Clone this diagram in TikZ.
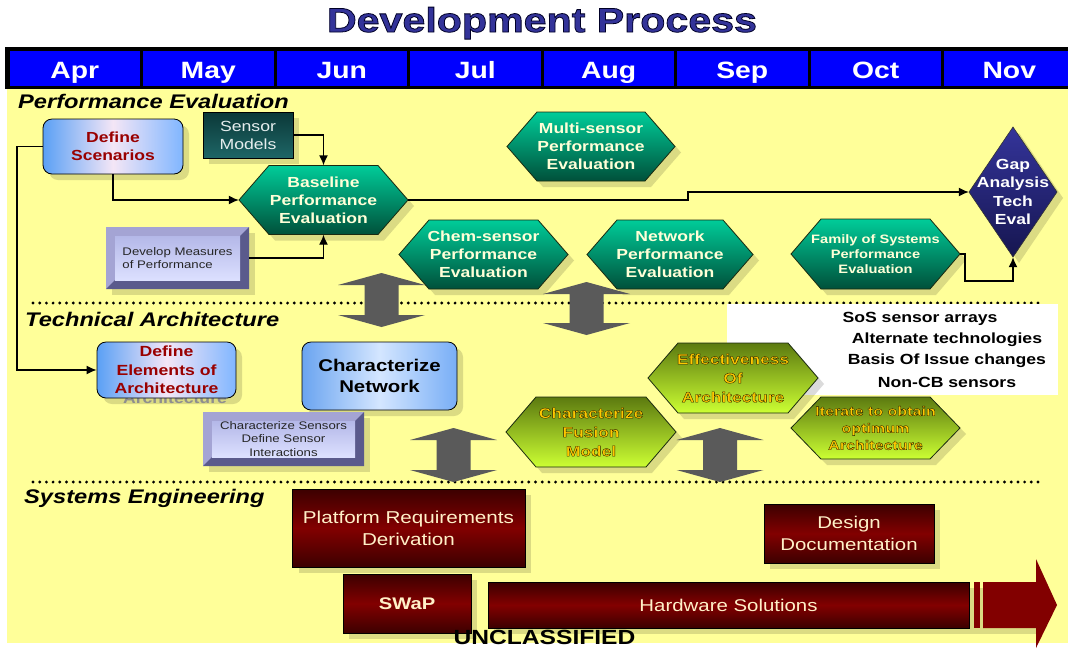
\documentclass[tikz,border=0pt]{standalone}
\usepackage{fontspec}
\setmainfont[FakeStretch=1.2]{Liberation Sans}
\usetikzlibrary{arrows.meta}

\definecolor{bgyellow}{HTML}{FFFF99}
\definecolor{hdrblue}{HTML}{0000FF}
\definecolor{titleblue}{HTML}{333399}
\definecolor{dred}{HTML}{990000}
\definecolor{hexgt}{HTML}{00CC99}
\definecolor{hexgb}{HTML}{00503A}
\definecolor{hexline}{HTML}{1A2A10}
\definecolor{hextxt}{HTML}{FFFFD8}
\definecolor{hexot}{HTML}{5C7A10}
\definecolor{hexob}{HTML}{CCFF33}
\definecolor{goldtxt}{HTML}{FFC800}
\definecolor{gapt}{HTML}{34349A}
\definecolor{gapb}{HTML}{161650}
\definecolor{smt}{HTML}{0B3838}
\definecolor{smb}{HTML}{1E6666}
\definecolor{smtxt}{HTML}{E6EEEE}
\definecolor{bevl}{HTML}{A4A4D4}
\definecolor{bevd}{HTML}{5A5A8C}
\definecolor{bevit}{HTML}{B4B8E8}
\definecolor{bevib}{HTML}{DCE0FF}
\definecolor{redt}{HTML}{3C0000}
\definecolor{redm}{HTML}{820000}
\definecolor{redtxt}{HTML}{FFF0C8}
\definecolor{arrd}{HTML}{5A5A5A}
\definecolor{arrl}{HTML}{BDBDBD}
\definecolor{rbl}{HTML}{5AA0F5}
\definecolor{rbm}{HTML}{F4E6F6}
\definecolor{rbr}{HTML}{80B6FF}
\definecolor{cnl}{HTML}{6AA4F0}
\definecolor{cnm}{HTML}{D4E6FF}
\definecolor{cnr}{HTML}{78AEF6}

\newcommand\setfs[2]{\fontsize{#1}{#2}\selectfont}
% dark outline for text (fill + stroke render mode)
\newcommand\darkoutline{\special{pdf:code 0.15 0.12 0.0 RG 2 Tr 0.35 w}}

\tikzset{
  shad/.style={fill=black, fill opacity=0.14},
  hexg/.style={top color=hexgt, bottom color=hexgb, draw=hexline, line width=0.8pt},
  hexo/.style={top color=hexot, bottom color=hexob, draw=hexline, line width=0.8pt},
  gtxt/.style={text=hextxt, font=\bfseries\setfs{14.6}{18}, align=center, inner sep=0pt},
  gtxts/.style={text=hextxt, font=\bfseries\setfs{12.2}{15.3}, align=center, inner sep=0pt},
  otxt/.style={text=goldtxt, font=\bfseries\setfs{14.5}{19}, align=center, inner sep=0pt},
  otxts/.style={text=goldtxt, font=\bfseries\setfs{13.4}{17}, align=center, inner sep=0pt},
  bevtxt/.style={text=black!85, font=\setfs{11}{13.7}, inner sep=0pt},
  rbox/.style={draw=black, line width=0.8pt, rounded corners=9pt, align=center, inner sep=0pt},
  redbox/.style={draw=black, line width=0.6pt, top color=redt, bottom color=redt, middle color=redm, text=redtxt, align=center, inner sep=0pt},
  conn/.style={draw=black, line width=1.4pt, -{Latex[length=10pt,width=9pt]}},
  month/.style={text=white, font=\bfseries\setfs{23.6}{26}, anchor=base, inner sep=0pt},
  seclabel/.style={font=\bfseries\itshape\setfs{19.7}{22}, anchor=base west, inner sep=0pt},
  listtxt/.style={font=\bfseries\setfs{14.7}{18}, anchor=base, inner sep=0pt},
  dotline/.style={line width=3.2pt, line cap=round, dash pattern=on 0pt off 6.7pt},
}

% hexagon: name, cx, cy, w, h, fill style, text style, text
\newcommand\hexnode[8]{%
  \fill[shad] ({#2-#4/2+6},{#3+6}) -- ({#2-#4/2+36},{#3-#5/2+6}) -- ({#2+#4/2-24},{#3-#5/2+6}) -- ({#2+#4/2+6},{#3+6}) -- ({#2+#4/2-24},{#3+#5/2+6}) -- ({#2-#4/2+36},{#3+#5/2+6}) -- cycle;
  \path[#6] ({#2-#4/2},#3) -- ({#2-#4/2+30},{#3-#5/2}) -- ({#2+#4/2-30},{#3-#5/2}) -- ({#2+#4/2},#3) -- ({#2+#4/2-30},{#3+#5/2}) -- ({#2-#4/2+30},{#3+#5/2}) -- cycle;
  \node[#7, minimum width=#4, minimum height=#5] (#1) at (#2,#3) {#8};}

% bevel box: name, cx, cy, w, h, text style, text
\newcommand\bevbox[7]{%
  \fill[shad] ({#2-#4/2+6},{#3-#5/2+6}) rectangle ({#2+#4/2+6},{#3+#5/2+6});
  \fill[bevl] ({#2-#4/2},{#3-#5/2}) rectangle ({#2+#4/2},{#3+#5/2});
  \fill[bevd] ({#2-#4/2},{#3+#5/2}) -- ({#2-#4/2+9},{#3+#5/2-9}) -- ({#2+#4/2-9},{#3+#5/2-9}) -- ({#2+#4/2-9},{#3-#5/2+9}) -- ({#2+#4/2},{#3-#5/2}) -- ({#2+#4/2},{#3+#5/2}) -- cycle;
  \shade[top color=bevit, bottom color=bevib] ({#2-#4/2+9},{#3-#5/2+9}) rectangle ({#2+#4/2-9},{#3+#5/2-9});
  \node[#6, minimum width=#4, minimum height=#5] (#1) at (#2,#3) {#7};}

% grey double arrow: cx, ytop, ybottom
\newcommand\dblarr[3]{%
  \shade[top color=arrd, middle color=arrl, bottom color=arrd] (#1,#2) -- ({#1+43.5},{#2+12}) -- ({#1+17},{#2+12}) -- ({#1+17},{#3-12}) -- ({#1+43.5},{#3-12}) -- (#1,#3) -- ({#1-43.5},{#3-12}) -- ({#1-17},{#3-12}) -- ({#1-17},{#2+12}) -- ({#1-43.5},{#2+12}) -- cycle;}

\begin{document}
\begin{tikzpicture}[x=1pt,y=-1pt]
\useasboundingbox (0,0) rectangle (1068,649);
\fill[white] (0,0) rectangle (1068,649);

% yellow field
\fill[bgyellow] (7,88) rectangle (1068,643);

% title
\node[text=titleblue, font=\bfseries\setfs{34.3}{38}, anchor=base, inner sep=0pt] (title) at (542,32) {\special{pdf:code 0 0 0.15 RG 2 Tr 0.8 w}Development Process};

% month header
\fill[black] (5,47) rectangle (1068,89);
\foreach \i/\m in {0/Apr,1/May,2/Jun,3/Jul,4/Aug,5/Sep,6/Oct,7/Nov}{
  \fill[hdrblue] ({8+133.5*\i+1.5},51) rectangle ({8+133.5*(\i+1)-1.5},86);
  \node[month] (m\i) at ({8+133.5*\i+66.75},78) {\m};
}

% section labels
\node[seclabel] (lpe) at (18,108) {Performance Evaluation};
\node[seclabel] (lta) at (25,326) {Technical Architecture};
\node[seclabel] (lse) at (24,503) {Systems Engineering};

% dotted separators
\draw[dotline] (33,303) -- (1040,303);
\draw[dotline] (33,482) -- (1040,482);

% white list box
\fill[white] (727,304) rectangle (1058,395);
\node[listtxt] (l1) at (920,322) {SoS sensor arrays};
\node[listtxt] (l2) at (947,343) {Alternate technologies};
\node[listtxt] (l3) at (947,364) {Basis Of Issue changes};
\node[listtxt] (l4) at (947,387) {Non-CB sensors};

% ---------- Performance Evaluation ----------
\fill[shad, rounded corners=9pt] (49,125) rectangle (189,180);
\node[rbox, left color=rbl, right color=rbr, middle color=rbm, minimum width=140, minimum height=55, text=dred, font=\bfseries\setfs{14.6}{18}] (ds) at (113,146.5) {Define\\Scenarios};

\fill[shad] (209,118) rectangle (299,164);
\node[draw=black, line width=0.6pt, top color=smt, bottom color=smb, text=smtxt, font=\setfs{14.7}{18}, align=center, inner sep=0pt, minimum width=90, minimum height=46] (sm) at (248,135) {Sensor\\Models};

\hexnode{bpe}{323.5}{200}{169}{69}{hexg}{gtxt}{Baseline\\Performance\\Evaluation}
\bevbox{dm}{177.5}{258}{143}{62}{bevtxt, align=left}{Develop Measures\\of Performance}
\hexnode{msp}{591}{146.5}{168}{69}{hexg}{gtxt}{Multi-sensor\\Performance\\Evaluation}
\hexnode{csp}{483.5}{254.5}{169}{69}{hexg}{gtxt}{Chem-sensor\\Performance\\Evaluation}
\hexnode{nep}{670}{254.5}{166}{69}{hexg}{gtxt}{Network\\Performance\\Evaluation}
\hexnode{fos}{875.5}{254}{169}{70}{hexg}{gtxts}{Family of Systems\\Performance\\Evaluation}

% gap analysis diamond
\fill[shad] (1019,133) -- (1063,198) -- (1019,263) -- (975,198) -- cycle;
\path[top color=gapt, bottom color=gapb, draw=black!80, line width=0.6pt] (1013,127) -- (1057,192) -- (1013,257) -- (969,192) -- cycle;
\node[text=white, font=\bfseries\setfs{14.6}{18.3}, align=center, inner sep=0pt, minimum width=88, minimum height=130] (gap) at (1013,192) {Gap\\Analysis\\Tech\\Eval};

% ---------- Technical Architecture ----------
\node[text=black!35, font=\bfseries\setfs{14.7}{18}, anchor=base, inner sep=0pt] (ghost) at (175,403) {Architecture};
\fill[shad, rounded corners=9pt] (103,348) rectangle (242,404);
\node[rbox, left color=rbl, right color=rbr, middle color=rbm, minimum width=139, minimum height=56, text=dred, font=\bfseries\setfs{14.7}{18.3}] (de) at (166.5,370) {Define\\Elements of\\Architecture};

\fill[shad, rounded corners=9pt] (308,348) rectangle (463,416);
\node[rbox, left color=cnl, right color=cnr, middle color=cnm, minimum width=155, minimum height=68, text=black, font=\bfseries\setfs{17}{21.7}] (cn) at (379.5,376) {Characterize\\Network};

\bevbox{cs}{283.5}{439}{161}{54}{bevtxt, align=center}{Characterize Sensors\\Define Sensor\\Interactions}

\hexnode{cfm}{591}{432}{170}{70}{hexo}{otxt}{\darkoutline Characterize\\Fusion\\Model}
\hexnode{ito}{875.5}{428}{169}{62}{hexo}{otxts}{\darkoutline Iterate to obtain\\optimum\\Architecture}
\hexnode{eoa}{733}{378}{170}{70}{hexo}{otxt}{\darkoutline Effectiveness\\Of\\Architecture}

% connectors
\draw[conn] (sm.east) -| (bpe.north);
\draw[conn] (ds.south) |- (bpe.west);
\draw[conn] (dm.east) -| (bpe.south);
\draw[conn] (bpe.east) -- (688,200) |- (gap.west);
\draw[conn] (fos.east) -| (965,281) -| (gap.south);
\draw[conn] (ds.west) -| (17,370) -- (de.west);

% grey double arrows
\dblarr{381.5}{273}{327}
\dblarr{586.5}{282}{335}
\dblarr{453.5}{428}{482}
\dblarr{720}{428}{482}

% ---------- Systems Engineering ----------
\fill[shad] (299,495) rectangle (531,573);
\node[redbox, minimum width=233, minimum height=78, font=\setfs{17.2}{21.7}] (prd) at (408.5,528) {Platform Requirements\\Derivation};

\fill[shad] (770,510) rectangle (940,569);
\node[redbox, minimum width=170, minimum height=59, font=\setfs{17}{21.7}] (dd) at (849,533.5) {Design\\Documentation};

\fill[shad] (349,580) rectangle (477,639);
\node[redbox, minimum width=128, minimum height=59, font=\bfseries\setfs{16.8}{20}] (swap) at (407,603.5) {SWaP};

\fill[shad] (494,588) rectangle (1042,634);
\node[redbox, minimum width=481, minimum height=46, font=\setfs{17}{20}] (hw) at (728.5,605) {Hardware Solutions};
\fill[redm] (974,582) rectangle (980,628);
\fill[redm] (983,582) -- (1036,582) -- (1036,559) -- (1057,605) -- (1036,648) -- (1036,628) -- (983,628) -- cycle;

\node[font=\bfseries\setfs{20.5}{22}, anchor=base, inner sep=0pt] (uncl) at (544.5,644) {UNCLASSIFIED};
\end{tikzpicture}
\end{document}
